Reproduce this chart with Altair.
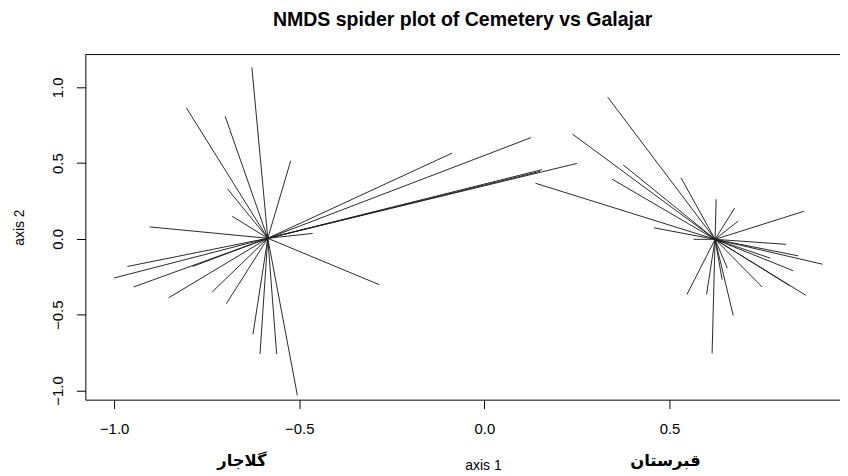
import altair as alt
import pandas as pd

# Site scores (axis 1, axis 2)
gal_x = [-0.628, -0.805, -0.700, -0.523, -0.694, -0.681, -0.904, -0.464, -0.964, -1.000,
         -0.947, -0.853, -0.788, -0.735, -0.697, -0.284, -0.625, -0.606, -0.561, -0.505,
         -0.087, 0.126, 0.156, 0.150, 0.250]
gal_y = [1.131, 0.865, 0.808, 0.516, 0.331, 0.149, 0.079, 0.036, -0.182, -0.258,
         -0.317, -0.389, -0.182, -0.350, -0.428, -0.302, -0.629, -0.760, -0.760, -1.033,
         0.566, 0.668, 0.457, 0.445, 0.498]
cem_x = [0.333, 0.238, 0.138, 0.375, 0.345, 0.531, 0.626, 0.676, 0.685, 0.863,
         0.458, 0.565, 0.815, 0.848, 0.913, 0.834, 0.868, 0.824, 0.750, 0.656,
         0.672, 0.547, 0.600, 0.642, 0.615, 0.772]
cem_y = [0.935, 0.691, 0.367, 0.488, 0.394, 0.403, 0.261, 0.204, 0.117, 0.182,
         0.073, -0.003, -0.036, -0.112, -0.167, -0.210, -0.372, -0.308, -0.317, -0.193,
         -0.505, -0.367, -0.367, -0.269, -0.755, -0.127]

# Group centroids (spider centres)
groups = ["Galajar", "Cemetery"]
cent_x = [-0.585, 0.623]
cent_y = [0.004, -0.003]

# Group labels under the axis
label_text = ["گلاجار", "قبرستان"]
label_x = [-0.655, 0.489]

x_ticks = [-1.0, -0.5, 0.0, 0.5]
y_ticks = [-1.0, -0.5, 0.0, 0.5, 1.0]
x_dom = [-1.0777, 0.9604]
y_dom = [-1.0608, 1.2159]

rows = []
for gx, gy in zip(gal_x, gal_y):
    rows.append({"g": groups[0], "x": gx, "y": gy, "cx": cent_x[0], "cy": cent_y[0]})
for px, py in zip(cem_x, cem_y):
    rows.append({"g": groups[1], "x": px, "y": py, "cx": cent_x[1], "cy": cent_y[1]})
df = pd.DataFrame(rows)

xs = alt.Scale(domain=x_dom, nice=False, zero=False)
ys = alt.Scale(domain=y_dom, nice=False, zero=False)

FONT = "Liberation Sans"

xaxis = alt.Axis(values=x_ticks, format=".1f", grid=False, domain=True, domainColor="black",
                 tickColor="black", tickSize=9, labelFontSize=15, labelFont=FONT,
                 labelColor="black", labelPadding=13, title="axis 1", titleFont=FONT,
                 titleFontSize=14, titleFontWeight="normal", titleColor="black",
                 titleX=401, titleY=66, titleBaseline="middle", titleAlign="center")
yaxis = alt.Axis(values=y_ticks, format=".1f", grid=False, domain=True, domainColor="black",
                 tickColor="black", tickSize=9, labelFontSize=15, labelFont=FONT,
                 labelColor="black", labelPadding=11, labelAngle=270,
                 labelAlign="center", labelBaseline="bottom",
                 title="axis 2", titleFont=FONT, titleFontSize=14, titleFontWeight="normal",
                 titleColor="black", titleX=-66, titleY=174, titleAngle=270,
                 titleBaseline="middle", titleAlign="center")

spokes = alt.Chart(df).mark_rule(color="#1e1e1e", strokeWidth=0.95).encode(
    x=alt.X("x:Q", scale=xs, axis=xaxis),
    y=alt.Y("y:Q", scale=ys, axis=yaxis),
    x2="cx:Q",
    y2="cy:Q",
)

top_border = alt.Chart(pd.DataFrame({"y": [y_dom[1]]})).mark_rule(
    color="black", strokeWidth=1).encode(y=alt.Y("y:Q", scale=ys))

lab_df = pd.DataFrame({"t": label_text, "x": label_x})
labels = alt.Chart(lab_df).mark_text(
    fontSize=16.5, fontWeight="bold", font="DejaVu Sans", color="black",
    baseline="middle", align="center").encode(
    x=alt.X("x:Q", scale=xs),
    y=alt.value(410),
    text="t:N",
)

chart = alt.layer(spokes, top_border, labels).properties(
    width=761, height=348,
    title=alt.TitleParams("NMDS spider plot of Cemetery vs Galajar", font=FONT,
                          fontSize=19.7, fontWeight="bold", color="black",
                          anchor="middle", offset=25),
    autosize=alt.AutoSizeParams(type="none"),
    padding={"left": 78, "top": 45, "right": 0, "bottom": 75},
).configure_view(stroke=None)

chart.save("out.html", embed_options={"renderer": "svg", "actions": False})
